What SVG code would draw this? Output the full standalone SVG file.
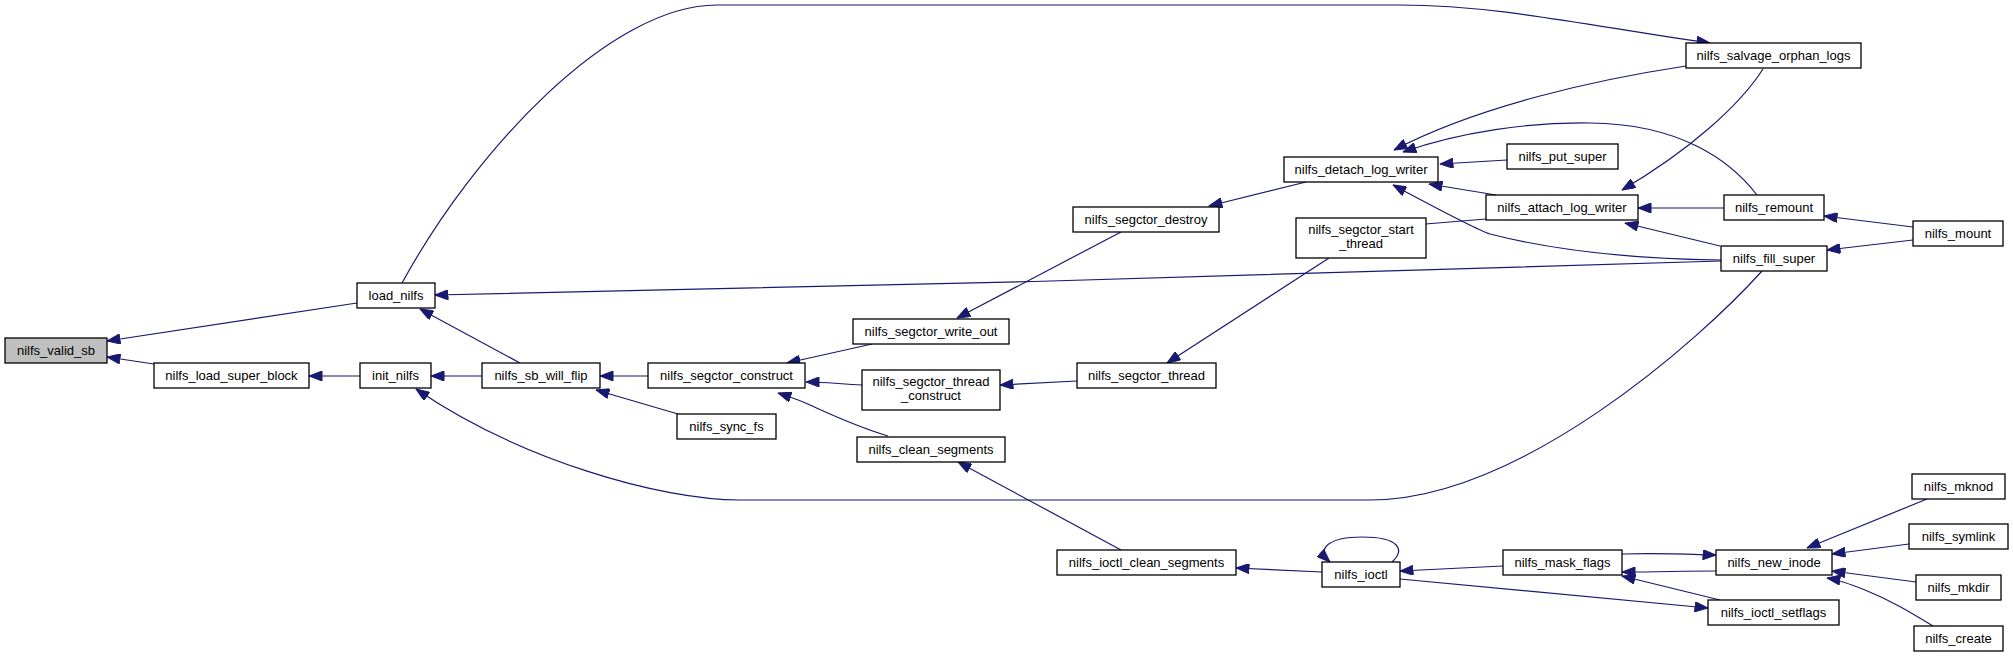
<svg xmlns="http://www.w3.org/2000/svg" width="2013" height="657" viewBox="0 0 2013 657">
<style>
.n rect{fill:#fff;stroke:#000;stroke-width:1.3}
.n text{font-family:"Liberation Sans",Arial,sans-serif;font-size:13px;text-anchor:middle;fill:#000}
#edges path{fill:none;stroke:#191970;stroke-width:1.2;marker-end:url(#arr)}
</style>
<defs>
<marker id="arr" markerUnits="userSpaceOnUse" markerWidth="14" markerHeight="10" viewBox="0 0 13 10" refX="13" refY="5" orient="auto">
<path d="M0,0 L13,5 L0,10 z" fill="#191970" stroke="#191970" stroke-width="1"/>
</marker>
</defs>
<rect width="2013" height="657" fill="#fff"/>
<g id="edges">
<path d="M357,303 L107,341"/>
<path d="M154,364 L107,357"/>
<path d="M360,376 L309,376"/>
<path d="M482,376 L431,376"/>
<path d="M520,363 L420,309"/>
<path d="M1762,271 C1700,340 1520,500 1370,500 L740,500 C660,500 520,460 416,389"/>
<path d="M648,376 L600,376"/>
<path d="M678,414 L596,390"/>
<path d="M872,344 L787,363"/>
<path d="M862,385 C840,384 825,382 806,382"/>
<path d="M888,436 C855,426 830,414 810,405 C800,400 790,397 778,393"/>
<path d="M1121,232 L957,318"/>
<path d="M1306,182 L1209,206"/>
<path d="M1507,160 L1440,164"/>
<path d="M1496,195 L1429,184"/>
<path d="M1721,260 C1640,259 1560,252 1490,234 C1475,229 1440,210 1393,185"/>
<path d="M1686,66 C1600,79 1480,105 1394,150"/>
<path d="M1757,195 C1730,160 1680,124 1590,123 C1530,122 1460,132 1403,152"/>
<path d="M1763,69 C1740,105 1690,150 1622,190"/>
<path d="M1724,208 L1638,208"/>
<path d="M1720,246 L1625,223"/>
<path d="M1913,227 L1824,216"/>
<path d="M1913,240 L1827,250"/>
<path d="M1486,219 L1377,228"/>
<path d="M1329,258 L1167,363"/>
<path d="M1077,381 L1000,385"/>
<path d="M1721,261 C1400,272 800,289 435,295"/>
<path d="M1121,550 L958,462"/>
<path d="M1322,572 L1236,568"/>
<path d="M1392,562 C1405,550 1400,537 1362,537 C1330,537 1315,548 1330,562"/>
<path d="M1503,566 L1400,571"/>
<path d="M1400,579 L1708,608"/>
<path d="M1622,554 C1660,553 1680,554 1716,555"/>
<path d="M1716,571 C1680,571 1660,572 1622,572"/>
<path d="M1720,600 L1622,576"/>
<path d="M1927,499 L1807,548"/>
<path d="M1909,544 L1832,554"/>
<path d="M1916,582 L1832,571"/>
<path d="M1933,626 C1910,612 1890,600 1865,590 C1850,584 1840,580 1827,578"/>
<path d="M402,283 C475,150 610,5 717,5 L1400,5 C1500,5 1600,28 1710,43"/>
</g>
<g id="n_valid_sb" class="n"><rect x="5" y="338" width="102" height="25" style="fill:#bfbfbf"/><text x="56" y="355">nilfs_valid_sb</text></g>
<g id="n_load_super_block" class="n"><rect x="154" y="363" width="155" height="25"/><text x="231.5" y="380">nilfs_load_super_block</text></g>
<g id="n_init_nilfs" class="n"><rect x="360" y="363" width="71" height="25"/><text x="395.5" y="380">init_nilfs</text></g>
<g id="n_load_nilfs" class="n"><rect x="357" y="283" width="78" height="25"/><text x="396" y="300">load_nilfs</text></g>
<g id="n_sb_will_flip" class="n"><rect x="482" y="363" width="118" height="25"/><text x="541" y="380">nilfs_sb_will_flip</text></g>
<g id="n_segctor_construct" class="n"><rect x="648" y="363" width="157" height="25"/><text x="726.5" y="380">nilfs_segctor_construct</text></g>
<g id="n_sync_fs" class="n"><rect x="677" y="414" width="99" height="25"/><text x="726.5" y="431">nilfs_sync_fs</text></g>
<g id="n_write_out" class="n"><rect x="853" y="319" width="156" height="25"/><text x="931" y="336">nilfs_segctor_write_out</text></g>
<g id="n_thread_construct" class="n"><rect x="862" y="370" width="138" height="40"/><text x="931" y="386">nilfs_segctor_thread</text><text x="931" y="400">_construct</text></g>
<g id="n_clean_segments" class="n"><rect x="857" y="437" width="148" height="25"/><text x="931" y="454">nilfs_clean_segments</text></g>
<g id="n_segctor_destroy" class="n"><rect x="1073" y="207" width="146" height="25"/><text x="1146" y="224">nilfs_segctor_destroy</text></g>
<g id="n_segctor_thread" class="n"><rect x="1077" y="363" width="139" height="25"/><text x="1146.5" y="380">nilfs_segctor_thread</text></g>
<g id="n_start_thread" class="n"><rect x="1296" y="218" width="130" height="40"/><text x="1361" y="234">nilfs_segctor_start</text><text x="1361" y="248">_thread</text></g>
<g id="n_detach_log_writer" class="n"><rect x="1284" y="157" width="154" height="25"/><text x="1361" y="174">nilfs_detach_log_writer</text></g>
<g id="n_put_super" class="n"><rect x="1507" y="144" width="111" height="25"/><text x="1562.5" y="161">nilfs_put_super</text></g>
<g id="n_attach_log_writer" class="n"><rect x="1486" y="195" width="152" height="25"/><text x="1562" y="212">nilfs_attach_log_writer</text></g>
<g id="n_salvage_orphan_logs" class="n"><rect x="1686" y="43" width="175" height="25"/><text x="1773.5" y="60">nilfs_salvage_orphan_logs</text></g>
<g id="n_remount" class="n"><rect x="1724" y="195" width="100" height="25"/><text x="1774" y="212">nilfs_remount</text></g>
<g id="n_fill_super" class="n"><rect x="1721" y="246" width="106" height="25"/><text x="1774" y="263">nilfs_fill_super</text></g>
<g id="n_mount" class="n"><rect x="1913" y="221" width="90" height="25"/><text x="1958" y="238">nilfs_mount</text></g>
<g id="n_ioctl_clean_segments" class="n"><rect x="1057" y="550" width="179" height="25"/><text x="1146.5" y="567">nilfs_ioctl_clean_segments</text></g>
<g id="n_ioctl" class="n"><rect x="1322" y="562" width="78" height="25"/><text x="1361" y="579">nilfs_ioctl</text></g>
<g id="n_mask_flags" class="n"><rect x="1503" y="550" width="119" height="25"/><text x="1562.5" y="567">nilfs_mask_flags</text></g>
<g id="n_new_inode" class="n"><rect x="1716" y="550" width="116" height="25"/><text x="1774" y="567">nilfs_new_inode</text></g>
<g id="n_ioctl_setflags" class="n"><rect x="1708" y="600" width="131" height="25"/><text x="1773.5" y="617">nilfs_ioctl_setflags</text></g>
<g id="n_mknod" class="n"><rect x="1912" y="474" width="93" height="25"/><text x="1958.5" y="491">nilfs_mknod</text></g>
<g id="n_symlink" class="n"><rect x="1909" y="524" width="99" height="25"/><text x="1958.5" y="541">nilfs_symlink</text></g>
<g id="n_mkdir" class="n"><rect x="1916" y="575" width="85" height="25"/><text x="1958.5" y="592">nilfs_mkdir</text></g>
<g id="n_create" class="n"><rect x="1914" y="626" width="89" height="25"/><text x="1958.5" y="643">nilfs_create</text></g>
</svg>
